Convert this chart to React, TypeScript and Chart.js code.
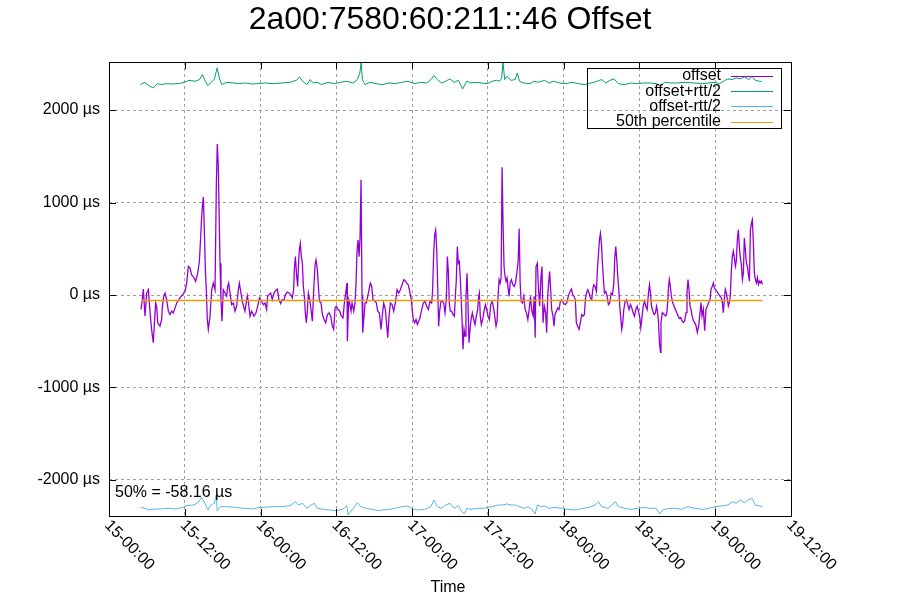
import React, { useEffect, useRef } from "react";
import { Chart, registerables } from "chart.js";

Chart.register(...registerables);

const chartTitle = "2a00:7580:60:211::46 Offset";
const xAxisTitle = "Time";
const percentileText = "50% = -58.16 µs";
const medianValue = -58.16;

// x axis: hours since 15-00:00
const xTickHours = [0, 12, 24, 36, 48, 60, 72, 84, 96, 108];
const xTickLabels = ["15-00:00", "15-12:00", "16-00:00", "16-12:00", "17-00:00", "17-12:00", "18-00:00", "18-12:00", "19-00:00", "19-12:00"];
const yTickValues = [-2000, -1000, 0, 1000, 2000];
const yMin = -2390;
const yMax = 2520;

const legendLabels = ["offset", "offset+rtt/2", "offset-rtt/2", "50th percentile"];
const seriesColors = ["#9400d3", "#009e73", "#56b4e9", "#e69f00"];

// offset [hour, µs]
const offsetPart1: [number, number][] = [
  [5.07,-157],[5.28,-50],[5.44,64],[5.70,-229],[5.97,21],[6.23,57],[6.60,-265],[6.81,-408],[7.02,-515],[7.18,-319],
  [7.39,-86],[7.55,-122],[7.71,-300],[8.07,-337],[8.34,-265],[8.45,-122],[8.66,-14],[8.87,21],[9.13,-50],[9.40,-175],
  [9.66,-211],[9.92,-175],[10.19,-193],[10.72,-86],[11.24,-32],[11.61,0],[12.03,39],[12.30,129],[12.56,308],[12.83,290],
  [13.09,218],[13.36,200],[13.72,147],[14.04,236],[14.31,362],[14.52,630],[14.67,845],[14.83,988],[14.94,1060],[15.10,691],
  [15.26,272],[15.41,57],[15.57,-265],[15.73,-372],[16.00,-229],[16.26,57],[16.52,129],[16.79,57],[17.00,1203],[17.15,1632],
  [17.31,1400],[17.42,952],[17.58,344],[17.73,-50],[17.89,-283],[18.10,57],[18.37,21],[18.63,-14],[18.79,93],[18.95,129],
  [19.16,21],[19.42,-104],[19.69,-86],[19.95,-175],[20.21,-122],[20.48,57],[20.64,129],[20.90,21],[21.16,-86],[21.53,-175],
  [21.90,-7],[22.06,-68],[22.33,-229],[22.59,-175],[22.96,-229],[23.28,-193],[23.54,-122],[23.81,-32],[24.17,-68],[24.44,-104],
];
const offsetPart2: [number, number][] = [
  [24.70,-86],[24.96,-157],[25.12,-14],[25.33,4],[25.60,21],[25.86,-50],[26.13,21],[26.39,50],[26.65,64],[26.92,-50],
  [27.18,-93],[27.45,-50],[27.71,-50],[27.97,4],[28.24,32],[28.50,21],[28.77,4],[29.03,-32],[29.24,57],[29.35,272],
  [29.51,415],[29.72,200],[29.88,93],[29.99,308],[30.14,487],[30.30,558],[30.46,415],[30.62,344],[30.78,93],[30.94,-14],
  [31.09,-193],[31.25,-300],[31.41,-175],[31.57,21],[31.78,-50],[31.99,-157],[32.20,-283],[32.42,57],[32.63,326],[32.79,380],
  [33.00,272],[33.16,93],[33.32,-68],[33.58,-86],[33.79,-211],[34.06,-265],[34.32,-300],[34.59,-211],[34.85,-193],[35.11,-229],
  [35.37,-337],[35.58,-372],[35.80,-140],[36.01,-122],[36.27,-157],[36.53,-175],[36.80,-229],[37.06,-247],[37.27,-86],[37.48,21],
  [37.69,129],[37.75,-497],[37.96,-50],[38.11,-86],[38.33,-175],[38.49,-86],[38.75,-175],[38.96,-86],[39.12,129],[39.28,487],
  [39.44,594],[39.60,415],[39.76,630],[39.91,1246],[40.07,-14],[40.18,-408],[40.34,-265],[40.55,-86],[40.76,-86],[40.97,-14],
  [41.18,57],[41.39,129],[41.60,93],[41.81,-50],[42.13,-68],[42.34,-86],[42.55,-175],[42.81,-193],[43.08,-372],[43.29,-211],
  [43.50,-86],[43.77,-157],[44.03,-372],[44.14,-462],[44.35,-229],[44.56,-86],[44.82,-104],[45.09,-175],[45.35,-86],[45.62,57],
  [45.88,21],[46.14,57],[46.41,111],[46.67,165],
];
const offsetPart3: [number, number][] = [
  [46.87,158],[47.14,129],[47.40,111],[47.67,21],[47.88,-50],[48.03,-175],[48.19,-265],[48.40,-300],[48.62,-265],[48.83,-319],
  [49.04,-283],[49.25,-247],[49.51,-157],[49.78,-86],[50.04,-68],[50.30,-122],[50.57,-157],[50.83,-68],[51.10,-86],[51.25,57],
  [51.41,433],[51.57,648],[51.73,702],[51.89,505],[52.04,129],[52.20,-337],[52.36,-175],[52.57,-68],[52.78,-68],[53.00,-86],
  [53.21,-193],[53.42,-50],[53.58,415],[53.74,254],[53.89,-86],[54.05,-175],[54.26,-175],[54.47,-211],[54.69,-229],[54.85,-14],
  [55.00,165],[55.16,523],[55.32,344],[55.48,362],[55.64,165],[55.80,-86],[55.96,-372],[56.06,-587],[56.22,-372],[56.38,-444],
  [56.53,-14],[56.69,236],[56.85,-86],[57.01,-515],[57.17,-372],[57.33,-265],[57.54,-193],[57.75,-265],[57.96,-319],[58.17,-229],
  [58.38,-157],[58.54,-14],[58.64,21],[58.80,-229],[58.96,-319],[59.17,-265],[59.39,-175],[59.60,-104],[59.81,-157],[60.02,-229],
  [60.23,-265],[60.45,-104],[60.66,-68],[60.87,-122],[61.08,-229],[61.29,-337],[61.45,-283],[61.61,-14],[61.77,165],[61.93,129],
  [62.09,183],[62.25,1382],[62.40,773],[62.56,308],[62.72,200],[62.88,147],[63.04,183],[63.20,75],[63.36,-14],[63.52,129],
  [63.73,165],[63.94,111],[64.15,93],[64.37,129],[64.58,236],[64.79,362],[64.95,720],[65.11,129],[65.27,-68],[65.48,-86],
  [65.69,-14],[65.90,-157],[66.11,-193],[66.33,-265],[66.54,-157],[66.75,-14],[66.96,-175],[67.17,-229],[67.33,-14],[67.49,-462],
];
const offsetPart4: [number, number][] = [
  [67.62,308],[67.83,344],[67.99,93],[68.20,-122],[68.41,200],[68.57,308],[68.73,-300],[68.94,-122],[69.15,-193],[69.31,-408],
  [69.47,-14],[69.62,129],[69.78,254],[69.94,57],[70.10,-157],[70.31,-229],[70.47,-337],[70.63,-211],[70.84,-175],[71.05,-140],
  [71.26,-157],[71.48,-68],[71.69,-50],[71.95,-86],[72.22,-104],[72.48,-86],[72.74,-14],[73.01,39],[73.22,64],[73.43,4],
  [73.64,-14],[73.85,-50],[74.01,-300],[74.22,-337],[74.44,-372],[74.65,-300],[74.86,-211],[75.07,-229],[75.28,-211],[75.44,-50],
  [75.60,21],[75.81,57],[76.02,21],[76.24,-32],[76.45,-50],[76.60,57],[76.76,111],[76.97,93],[77.19,39],[77.34,272],
  [77.50,433],[77.66,594],[77.82,666],[77.98,558],[78.14,344],[78.30,165],[78.46,21],[78.67,39],[78.88,-14],[79.09,-104],
  [79.30,-86],[79.51,21],[79.72,4],[79.93,111],[80.09,397],[80.25,523],[80.41,380],[80.57,200],[80.73,57],[80.88,-122],
  [81.04,-247],[81.20,-372],[81.36,-300],[81.52,-157],[81.73,-68],[81.94,-50],[82.15,-104],[82.36,-157],[82.58,-104],[82.79,-140],
  [83.00,-193],[83.21,-229],[83.42,-157],[83.63,-122],[83.84,-175],[84.06,-247],[84.21,-354],[84.37,-265],[84.59,-122],[84.80,-68],
  [85.01,-122],[85.22,-157],[85.43,21],[85.59,111],[85.75,21],[85.91,-122],[86.12,-175],[86.33,-211],[86.54,-193],[86.70,-122],
  [86.86,-175],[87.02,-300],[87.17,-515],
];
const offsetPart5: [number, number][] = [
  [87.33,-619],[87.41,-297],[87.62,-190],[87.89,-208],[88.15,-226],[88.31,-208],[88.47,-82],[88.62,97],[88.73,168],[88.89,97],
  [89.05,-11],[89.26,-82],[89.47,-118],[89.68,-154],[89.89,-190],[90.11,-226],[90.32,-254],[90.53,-243],[90.74,-279],[90.96,-297],
  [91.17,-279],[91.38,-190],[91.53,25],[91.69,168],[91.85,61],[92.01,-118],[92.17,-154],[92.33,-226],[92.54,-279],[92.75,-297],
  [92.96,-333],[93.17,-405],[93.38,-333],[93.59,-190],[93.75,-82],[93.91,-226],[94.12,-154],[94.33,-387],[94.54,-154],[94.76,-118],
  [94.97,-82],[95.18,-47],[95.34,61],[95.55,97],[95.71,132],[95.86,79],[96.01,61],[96.23,43],[96.39,25],[96.55,7],
  [96.76,-11],[96.97,-29],[97.13,-82],[97.28,-190],[97.44,-47],[97.60,61],[97.76,25],[97.92,-47],[98.08,-118],[98.23,-82],
  [98.39,-11],[98.55,258],[98.71,419],[98.87,473],[99.03,401],[99.19,311],[99.34,365],[99.50,598],[99.66,705],[99.82,526],
  [99.98,401],[100.14,329],[100.30,168],[100.46,240],[100.61,616],[100.77,490],[100.93,347],[101.09,311],[101.25,222],[101.41,150],
  [101.57,705],[101.73,777],[101.88,813],[102.04,562],[102.20,240],[102.36,168],[102.52,132],[102.68,186],[102.84,115],[102.99,150],
  [103.15,132],[103.31,150],[103.47,115],
];

// offset+rtt/2 [hour, µs]
const upperPoints: [number, number][] = [
  [4.99,2275],[5.66,2300],[6.33,2264],[6.99,2239],[7.66,2286],[8.33,2275],[8.99,2286],[9.99,2282],[10.99,2286],[11.99,2300],
  [12.66,2322],[13.66,2312],[14.33,2330],[14.79,2384],[15.19,2322],[15.66,2264],[16.33,2312],[16.66,2330],[17.13,2456],[17.46,2348],
  [17.86,2275],[18.66,2300],[19.66,2293],[20.66,2286],[21.66,2293],[22.66,2282],[23.66,2286],[24.66,2293],[25.99,2286],[27.33,2293],
  [28.66,2300],[29.66,2322],[30.19,2358],[30.66,2312],[31.33,2275],[31.86,2330],[32.33,2293],[32.99,2300],[33.66,2275],[34.66,2300],
  [35.66,2286],[36.66,2300],[37.66,2312],[38.66,2293],[39.33,2330],[39.73,2402],[39.93,2518],[40.13,2330],[40.53,2275],[41.33,2300],
  [42.33,2286],[43.33,2275],[44.33,2293],[45.33,2286],[46.33,2300],[47.33,2312],[48.33,2286],[49.33,2300],[50.33,2293],[50.99,2330],
  [51.46,2373],[51.99,2330],[52.66,2293],[53.33,2312],[53.99,2337],[54.66,2300],[55.33,2322],[55.99,2228],[56.66,2312],[57.33,2293],
  [57.99,2300],[58.99,2293],[59.99,2286],[60.66,2312],[61.33,2322],[61.86,2312],[62.19,2348],[62.39,2518],[62.66,2330],[62.99,2366],
  [63.66,2322],[64.33,2330],[64.66,2402],[64.99,2312],[65.66,2293],[66.66,2286],[67.33,2312],[67.99,2300],[68.99,2322],[69.66,2293],
  [70.33,2312],[71.33,2293],[72.33,2286],[73.33,2300],[74.33,2286],[75.33,2275],[76.33,2293],[77.33,2312],[77.99,2330],[78.66,2293],
  [79.33,2322],[79.99,2337],[80.66,2286],[81.66,2275],[82.66,2293],[83.66,2286],[84.66,2293],[85.66,2293],[86.66,2286],[87.33,2264],
  [87.99,2300],[88.99,2293],[89.99,2293],[91.33,2300],[92.66,2293],[93.99,2286],[94.99,2293],[95.99,2300],[96.66,2286],[97.33,2312],
  [97.99,2337],[98.66,2330],[99.33,2348],[99.99,2337],[100.66,2358],[101.33,2330],[101.86,2366],[102.33,2322],[102.99,2312],[103.33,2308],
];

// offset-rtt/2 [hour, µs]
const lowerPoints: [number, number][] = [
  [4.99,-2296],[5.66,-2307],[6.33,-2325],[6.99,-2318],[7.66,-2314],[8.66,-2310],[9.66,-2307],[10.66,-2314],[11.66,-2296],[12.33,-2278],
  [13.33,-2271],[13.99,-2253],[14.66,-2188],[15.19,-2253],[15.66,-2325],[16.13,-2271],[16.66,-2253],[16.99,-2163],[17.13,-2332],[17.66,-2289],
  [18.66,-2289],[19.99,-2296],[21.33,-2307],[22.66,-2314],[23.66,-2300],[24.66,-2296],[25.99,-2289],[27.33,-2289],[28.66,-2278],[29.53,-2235],
  [29.99,-2271],[30.66,-2253],[31.33,-2307],[31.99,-2271],[32.53,-2253],[32.99,-2307],[33.99,-2318],[34.99,-2325],[35.99,-2332],[36.99,-2318],
  [37.66,-2278],[37.86,-2379],[38.66,-2307],[39.33,-2246],[39.86,-2289],[40.66,-2307],[41.66,-2318],[42.66,-2332],[43.33,-2325],[44.33,-2318],
  [45.33,-2307],[46.33,-2289],[47.33,-2282],[47.99,-2314],[48.99,-2325],[49.99,-2318],[50.99,-2289],[51.46,-2217],[51.99,-2289],[52.66,-2307],
  [53.33,-2271],[53.99,-2253],[54.66,-2307],[55.33,-2278],[55.99,-2354],[56.33,-2361],[56.66,-2307],[57.33,-2318],[58.33,-2307],[59.33,-2307],
  [59.99,-2296],[60.66,-2289],[61.66,-2271],[62.33,-2271],[62.99,-2260],[63.66,-2271],[64.33,-2271],[64.99,-2289],[65.66,-2307],[66.33,-2289],
  [66.99,-2318],[67.46,-2368],[67.86,-2271],[68.33,-2289],[68.99,-2282],[69.66,-2307],[70.66,-2296],[71.66,-2307],[72.66,-2318],[73.99,-2325],
  [74.99,-2307],[75.99,-2296],[76.99,-2271],[77.53,-2235],[77.99,-2289],[78.99,-2307],[79.66,-2271],[80.19,-2235],[80.66,-2289],[81.66,-2307],
  [82.66,-2318],[83.66,-2307],[84.66,-2296],[85.66,-2307],[86.66,-2307],[87.19,-2368],[87.66,-2325],[88.66,-2307],[89.66,-2307],[90.66,-2318],
  [91.66,-2289],[92.66,-2307],[93.99,-2318],[94.99,-2307],[95.99,-2289],[96.99,-2282],[97.99,-2271],[98.79,-2235],[99.33,-2253],[99.99,-2217],
  [100.66,-2246],[101.19,-2217],[101.86,-2199],[102.33,-2271],[102.99,-2282],[103.46,-2289],
];

const medianSpan = [5.07, 103.47];

const FONT = '"Liberation Sans", Arial, sans-serif';

const toXY = (pts: [number, number][]) => pts.map(([x, y]) => ({ x, y }));

const overlayPlugin = {
  id: "gnuplotOverlay",
  afterDraw(chart: any) {
    const { ctx, chartArea } = chart;
    const { left, right, top, bottom } = chartArea;
    const xs = chart.scales.x;
    const ys = chart.scales.y;
    ctx.save();
    ctx.setLineDash([]);
    ctx.strokeStyle = "#000";
    ctx.lineWidth = 1;
    // tick marks (inward, mirrored)
    ctx.beginPath();
    yTickValues.forEach((v) => {
      const py = Math.round(ys.getPixelForValue(v)) + 0.5;
      ctx.moveTo(left, py);
      ctx.lineTo(left + 7, py);
      ctx.moveTo(right, py);
      ctx.lineTo(right - 7, py);
    });
    xTickHours.forEach((h) => {
      const px = Math.round(xs.getPixelForValue(h)) + 0.5;
      ctx.moveTo(px, bottom);
      ctx.lineTo(px, bottom - 7);
      ctx.moveTo(px, top);
      ctx.lineTo(px, top + 7);
    });
    ctx.stroke();
    // frame
    ctx.strokeRect(Math.round(left) + 0.5, Math.round(top) + 0.5, Math.round(right - left), Math.round(bottom - top));

    ctx.fillStyle = "#000";
    // y labels
    ctx.font = `16px ${FONT}`;
    ctx.textAlign = "right";
    ctx.textBaseline = "middle";
    yTickValues.forEach((v) => {
      ctx.fillText(`${v} µs`, left - 9, ys.getPixelForValue(v));
    });
    // x labels rotated
    ctx.textAlign = "left";
    xTickHours.forEach((h, i) => {
      const px = xs.getPixelForValue(h);
      ctx.save();
      ctx.translate(px - 2, bottom + 7);
      ctx.rotate(Math.PI / 4);
      ctx.fillText(xTickLabels[i], 0, 0);
      ctx.restore();
    });
    // axis title
    ctx.textAlign = "center";
    ctx.textBaseline = "alphabetic";
    ctx.fillText(xAxisTitle, (left + right) / 2 - 2, 592);
    // percentile text
    ctx.textAlign = "left";
    ctx.fillText(percentileText, left + 6, 497);
    // title
    ctx.font = `32px ${FONT}`;
    ctx.textAlign = "center";
    ctx.fillText(chartTitle, chart.width / 2, 29);

    // legend
    const boxRight = right - 10;
    const boxLeft = boxRight - 194;
    const boxTop = top + 6;
    const rowH = 15.2;
    ctx.strokeRect(Math.round(boxLeft) + 0.5, Math.round(boxTop) + 0.5, 194, 60);
    ctx.font = `16px ${FONT}`;
    ctx.textAlign = "right";
    ctx.textBaseline = "middle";
    legendLabels.forEach((lab, i) => {
      const cy = boxTop + 8 + i * rowH;
      ctx.fillStyle = "#000";
      ctx.fillText(lab, boxRight - 60, cy);
      ctx.strokeStyle = seriesColors[i];
      ctx.lineWidth = 1;
      ctx.beginPath();
      ctx.moveTo(boxRight - 50, Math.round(cy) + 0.5);
      ctx.lineTo(boxRight - 8, Math.round(cy) + 0.5);
      ctx.stroke();
      ctx.strokeStyle = "#000";
    });
    ctx.restore();
  },
};

export default function App() {
  const canvasRef = useRef<HTMLCanvasElement | null>(null);

  useEffect(() => {
    document.body.style.margin = "0";
    const canvas = canvasRef.current;
    if (!canvas) return;
    const offsetPoints = [...offsetPart1, ...offsetPart2, ...offsetPart3, ...offsetPart4, ...offsetPart5];
    const chart = new Chart(canvas, {
      type: "line",
      data: {
        datasets: [
          {
            label: legendLabels[3],
            data: [{ x: medianSpan[0], y: medianValue }, { x: medianSpan[1], y: medianValue }],
            borderColor: seriesColors[3],
            borderWidth: 1.5,
            pointRadius: 0,
            order: 0,
          },
          {
            label: legendLabels[2],
            data: toXY(lowerPoints),
            borderColor: seriesColors[2],
            borderWidth: 1,
            pointRadius: 0,
            order: 1,
          },
          {
            label: legendLabels[1],
            data: toXY(upperPoints),
            borderColor: seriesColors[1],
            borderWidth: 1,
            pointRadius: 0,
            order: 2,
          },
          {
            label: legendLabels[0],
            data: toXY(offsetPoints),
            borderColor: seriesColors[0],
            borderWidth: 1.3,
            pointRadius: 0,
            order: 3,
          },
        ],
      },
      options: {
        responsive: false,
        animation: false,
        devicePixelRatio: 1,
        layout: { padding: { left: 109, right: 109, top: 62, bottom: 84 } },
        plugins: { legend: { display: false }, tooltip: { enabled: false }, title: { display: false } },
        elements: { line: { tension: 0 } },
        scales: {
          x: {
            type: "linear",
            min: 0,
            max: 108,
            afterBuildTicks: (scale: any) => {
              scale.ticks = xTickHours.map((v) => ({ value: v }));
            },
            ticks: { display: false },
            grid: { color: "#a0a0a0", lineWidth: 1, drawTicks: false },
            border: { display: false, dash: [3, 3] },
          },
          y: {
            type: "linear",
            min: yMin,
            max: yMax,
            afterBuildTicks: (scale: any) => {
              scale.ticks = yTickValues.map((v) => ({ value: v }));
            },
            ticks: { display: false },
            grid: { color: "#a0a0a0", lineWidth: 1, drawTicks: false },
            border: { display: false, dash: [3, 3] },
          },
        },
      },
      plugins: [overlayPlugin],
    });
    return () => chart.destroy();
  }, []);

  return <canvas ref={canvasRef} width={900} height={600} style={{ display: "block" }} />;
}
